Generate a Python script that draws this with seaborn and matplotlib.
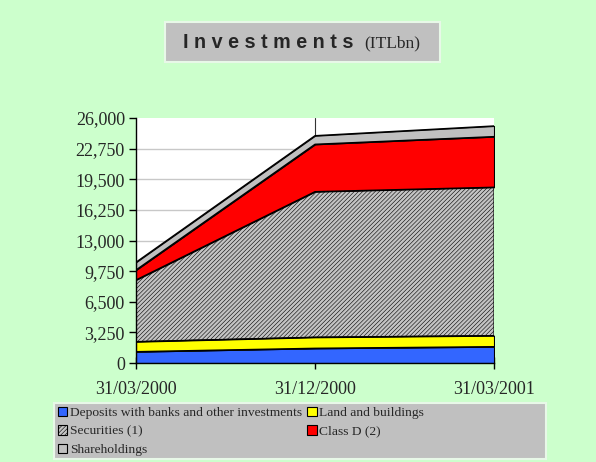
import matplotlib
matplotlib.use("Agg")
import matplotlib.pyplot as plt
from matplotlib.patches import Rectangle, Patch
from matplotlib.ticker import FuncFormatter
import numpy as np
import pandas as pd
import seaborn as sns

dates = ["31/03/2000", "31/12/2000", "31/03/2001"]
deposits = [1200, 1560, 1730]
land = [1060, 1170, 1170]
securities = [6550, 15450, 15750]
class_d = [1060, 5030, 5375]
shareholdings = [820, 910, 1130]

series_names = ["Deposits with banks and other investments", "Land and buildings",
                "Securities (1)", "Class D (2)", "Shareholdings"]
series_vals = [deposits, land, securities, class_d, shareholdings]
colors = ["#3366FF", "#FFFF00", "#C4C4C4", "#FF0000", "#C0C0C0"]
hatches = [None, None, "////////", None, None]
yticks = [0, 3250, 6500, 9750, 13000, 16250, 19500, 22750, 26000]

sns.set_style("white")
plt.rcParams["font.family"] = ["Liberation Serif", "DejaVu Serif"]
plt.rcParams["hatch.linewidth"] = 0.4
plt.rcParams["hatch.color"] = "#7A7A7A"

BG = "#CCFFCC"
fig = plt.figure(figsize=(5.96, 4.62), dpi=100, facecolor=BG)
ax = fig.add_axes([136/596, 1-363/462, (494-136)/596, (363-118)/462])
ax.set_facecolor("white")

x = np.arange(len(dates))
rows = []
base = np.zeros(len(dates))
for name, vals, col, h in zip(series_names, series_vals, colors, hatches):
    top = base + np.array(vals, dtype=float)
    ax.fill_between(x, base, top, facecolor=col, edgecolor="black",
                    linewidth=0.8, hatch=h, zorder=3)
    for xi, ti in zip(x, top):
        rows.append({"x": xi, "y": ti, "series": name})
    base = top
df = pd.DataFrame(rows)
sns.lineplot(data=df, x="x", y="y", units="series", estimator=None,
             color="black", linewidth=1.0, ax=ax, zorder=4, legend=False)

# vertical gridline at middle category
ax.axvline(1, color="#333333", linewidth=0.8, zorder=1)
for yt in yticks[1:-1]:
    ax.axhline(yt, color="#C8C8C8", linewidth=1.0, zorder=1)

ax.set_xlim(0, 2)
ax.set_ylim(0, 26000)
ax.set_yticks(yticks)
ax.yaxis.set_major_formatter(FuncFormatter(lambda v, p: f"{int(v):,}"))
ax.set_xticks(x)
ax.set_xticklabels(dates)
ax.set_xlabel("")
ax.set_ylabel("")
for s in ["top", "right"]:
    ax.spines[s].set_visible(False)
for s in ["left", "bottom"]:
    ax.spines[s].set_color("black")
    ax.spines[s].set_linewidth(1.0)
    ax.spines[s].set_zorder(5)
ax.tick_params(axis="y", direction="out", length=5, width=1, color="black",
               labelsize=13, pad=3, left=True)
ax.tick_params(axis="x", direction="inout", length=8, width=1, color="black",
               labelsize=13, pad=9, bottom=True)
ax.set_axisbelow(False)

# Title box
fig.patches.append(Rectangle((165/596, 1-62/462), (440-165)/596, (62-22)/462,
                             transform=fig.transFigure, facecolor="#C0C0C0",
                             edgecolor="#E8F8E8", linewidth=1.5, zorder=0))
fig.text(183/596, 1-43/462, "I n v e s t m e n t s", family=["Liberation Sans", "DejaVu Sans"],
         fontsize=14.2, fontweight="bold", va="center", ha="left")
fig.text(364/596, 1-43/462, "(ITLbn)", fontsize=12.5, va="center", ha="left")

# Legend box
fig.patches.append(Rectangle((54/596, 1-459/462), (546-54)/596, (459-403)/462,
                             transform=fig.transFigure, facecolor="#C0C0C0",
                             edgecolor="#E8F8E8", linewidth=1.5, zorder=0))
handles = {}
for name, col, h in zip(series_names, colors, hatches):
    handles[name] = Patch(facecolor=col, edgecolor="black", hatch=h, linewidth=0.8)
order = [series_names[0], series_names[2], series_names[4], series_names[1], series_names[3]]
fig.legend([handles[n] for n in order], order, loc="upper left",
           bbox_to_anchor=(55/596, 1-404/462), ncol=2, frameon=False,
           fontsize=9.7, handlelength=0.7, handleheight=0.7, handletextpad=0.2,
           columnspacing=0.4, labelspacing=0.45, borderpad=0.2, borderaxespad=0)

fig.savefig("out.png", dpi=100, facecolor=BG)
